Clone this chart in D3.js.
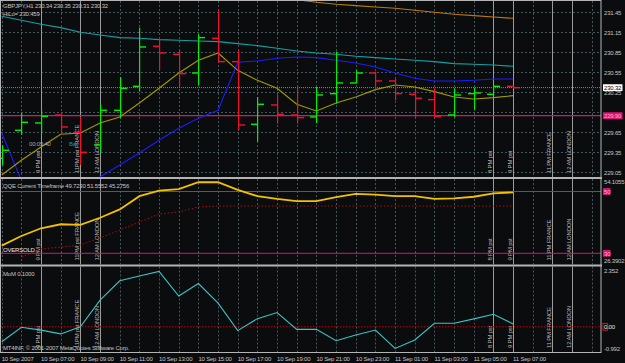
<!DOCTYPE html>
<html>
<head>
<meta charset="UTF-8"/>
<title>GBPJPY,H1</title>
<style>
  body { margin: 0; background: #0b0c0e; }
  svg { display: block; }
  text { font-family: "Liberation Sans", Arial, sans-serif; font-size: 6px; letter-spacing: -0.2px; fill: #c4c4c4; }
  .grid line { stroke: #46555a; stroke-dasharray: 2 2; stroke-width: 1; }
  .frame { stroke: #b4b4b4; fill: none; }
  .event line { stroke: #9a9a9a; stroke-width: 1; }
  .event text { fill: #b8b8b8; }
</style>
</head>
<body>
<svg width="625" height="363"></svg>
<script src="https://d3js.org/d3.v7.min.js"></script>
<script>
// time axis labels (every 2nd bar)
const dateLabels = ['10 Sep 2007', '10 Sep 07:00', '10 Sep 09:00', '10 Sep 11:00', '10 Sep 13:00',
  '10 Sep 15:00', '10 Sep 17:00', '10 Sep 19:00', '10 Sep 21:00', '10 Sep 23:00',
  '11 Sep 01:00', '11 Sep 03:00', '11 Sep 05:00', '11 Sep 07:00'];

// H1 bars
const opens  = [229.26, 229.68, 229.79, 229.91, 229.65, 229.46, 229.98, 230.34, 230.94, 230.82, 230.54, 231.06, 230.71, 229.77, 230.06, 229.91, 229.88, 230.23, 230.39, 230.54, 230.42, 230.22, 230.14, 229.91, 230.23, 230.22, 230.34];
const highs  = [229.46, 229.94, 229.98, 229.95, 229.88, 230.07, 230.48, 231.22, 231.05, 230.88, 231.12, 231.48, 230.88, 230.18, 230.21, 230.33, 230.33, 230.86, 230.58, 230.56, 230.45, 230.31, 230.31, 230.31, 230.32, 230.36, 230.35];
const lows   = [229.16, 229.61, 229.64, 229.61, 229.16, 229.35, 229.86, 230.26, 230.58, 230.34, 230.36, 230.70, 229.68, 229.51, 229.78, 229.78, 229.79, 230.08, 230.38, 230.29, 230.13, 229.88, 229.88, 229.88, 229.99, 230.21, 230.31];
const closes = [229.38, 229.80, 229.89, 229.73, 229.35, 229.98, 230.31, 230.93, 230.84, 230.53, 231.07, 230.71, 229.76, 230.07, 229.92, 229.87, 230.21, 230.39, 230.54, 230.42, 230.23, 230.16, 229.89, 230.21, 230.24, 230.34, 230.32];

// indicator lines on the price window
const maTeal = [231.39, 231.33, 231.27, 231.22, 231.15, 231.11, 231.07, 231.06, 231.04, 231.03, 231.02, 231.01, 230.98, 230.95, 230.91, 230.87, 230.84, 230.82, 230.79, 230.77, 230.75, 230.73, 230.71, 230.68, 230.67, 230.66, 230.64];
const maOrange = [null, null, null, null, null, null, null, null, null, null, null, 231.78, 231.74, 231.71, 231.68, 231.64, 231.60, 231.57, 231.55, 231.53, 231.51, 231.48, 231.45, 231.42, 231.40, 231.38, 231.36];
const hiloBlue = [229.64, 228.93, 228.78, 228.71, 228.78, 228.98, 229.16, 229.34, 229.53, 229.71, 229.86, 229.98, 230.70, 230.72, 230.76, 230.78, 230.77, 230.73, 230.69, 230.63, 230.54, 230.46, 230.42, 230.42, 230.43, 230.45, 230.45];
const maOlive = [229.01, 229.23, 229.43, 229.62, 229.64, 229.79, 229.88, 230.09, 230.31, 230.54, 230.73, 230.84, 230.58, 230.43, 230.31, 230.07, 229.97, 230.09, 230.18, 230.29, 230.36, 230.33, 230.26, 230.18, 230.15, 230.17, 230.20];
const priceTicks = [231.45, 231.15, 230.85, 230.55, 230.25, 229.95, 229.65, 229.35, 229.05];
const bidPrice = 230.32;
const alertPrice = 229.90;

// QQE window
const qqeLine = [32.5, 35.6, 38.1, 39.4, 39.2, 41.5, 44.2, 48.5, 50.3, 50.8, 53.0, 53.0, 50.5, 48.5, 47.6, 46.9, 46.9, 48.2, 49.2, 49.0, 48.5, 48.5, 47.6, 47.8, 48.3, 49.4, 49.72];
const qqeTrail = [null, 28.8, 31.4, 32.0, 32.7, 35.0, 37.5, 40.1, 42.7, 43.4, 45.0, 45.28, 45.28, 45.28, 45.28, 45.28, 45.28, 45.28, 45.28, 45.28, 45.28, 45.28, 45.28, 45.28, 45.28, 45.28, 45.28];
const qqeLevels = [50, 30];

// MoM window
const momValues = [-0.59, -0.02, -0.13, -0.28, 0.00, 1.05, 1.81, 2.00, 2.18, 1.21, 1.70, 0.93, -0.15, 0.32, 0.56, -0.10, -0.10, -0.55, -0.32, -0.13, -0.85, -0.52, 0.14, 0.14, 0.31, 0.49, 0.11];

// session markers: bar index and text
const events = [
  { bar: 2, label: '9 PM pst' }, { bar: 4, label: '11PM pst FRANCE' }, { bar: 5, label: '12 AM LONDON' },
  { bar: 25, label: '8 PM pst' }, { bar: 26, label: '9 PM pst' }, { bar: 28, label: '11 PM FRANCE' }, { bar: 29, label: '12 AM LONDON' }
];

const svg = d3.select('svg');
const left = 1, right = 601;
const x = d3.scaleLinear().domain([0, 30]).range([1.7, 591.8]);
const slots = d3.range(0, 31);

const panels = [
  { id: 'main', top: 1, bottom: 177, y: d3.scaleLinear().domain([229.05, 231.45]).range([172.3, 12.3]) },
  { id: 'qqe', top: 179, bottom: 264.5, y: d3.scaleLinear().domain([30, 50]).range([253.3, 191.5]) },
  { id: 'mom', top: 266.5, bottom: 352, y: d3.scaleLinear().domain([-0.992, 2.352]).range([352, 267]) }
];

const defs = svg.append('defs');
panels.forEach(p => {
  defs.append('clipPath').attr('id', 'clip-' + p.id)
    .append('rect').attr('x', left).attr('y', p.top)
    .attr('width', right - left).attr('height', p.bottom - p.top);
  p.g = svg.append('g').attr('clip-path', `url(#clip-${p.id})`);
  // vertical grid
  p.g.append('g').attr('class', 'grid').selectAll('line').data(slots).join('line')
    .attr('x1', d => Math.round(x(d)) + 0.5).attr('x2', d => Math.round(x(d)) + 0.5)
    .attr('y1', p.top).attr('y2', p.bottom);
});

const main = panels[0], qqe = panels[1], mom = panels[2];

// horizontal grid on price window
main.g.append('g').attr('class', 'grid').selectAll('line').data(priceTicks).join('line')
  .attr('x1', left).attr('x2', right)
  .attr('y1', d => Math.round(main.y(d)) + 0.5).attr('y2', d => Math.round(main.y(d)) + 0.5);

// event lines and labels in each window
panels.forEach(p => {
  const ev = p.g.append('g').attr('class', 'event').selectAll('g').data(events).join('g');
  ev.append('line')
    .attr('x1', d => Math.round(x(d.bar)) + 0.5).attr('x2', d => Math.round(x(d.bar)) + 0.5)
    .attr('y1', p.top).attr('y2', p.bottom);
  ev.append('text')
    .attr('transform', d => `translate(${x(d.bar) - 1.5}, ${p.bottom - 4}) rotate(-90)`)
    .text(d => d.label);
});

// price lines
const priceLine = d3.line().defined(d => d != null).x((d, i) => x(i)).y(d => main.y(d));
main.g.append('line')
  .attr('x1', left).attr('x2', right)
  .attr('y1', main.y(alertPrice)).attr('y2', main.y(alertPrice))
  .attr('stroke', '#e0106e').attr('stroke-width', 1.2);
main.g.append('line')
  .attr('x1', left).attr('x2', right)
  .attr('y1', main.y(bidPrice)).attr('y2', main.y(bidPrice))
  .attr('stroke', '#8a8a8a').attr('stroke-dasharray', '1 1');
[[maOrange, '#c07a00'], [maTeal, '#14a0a4'], [hiloBlue, '#1c1cff'], [maOlive, '#a29a00']].forEach(([vals, col]) => {
  main.g.append('path').datum(vals).attr('d', priceLine)
    .attr('fill', 'none').attr('stroke', col).attr('stroke-width', 1.1);
});

// OHLC bars
const bars = main.g.append('g').selectAll('g').data(opens).join('g')
  .attr('fill', (d, i) => closes[i] >= opens[i] ? '#00f000' : '#f01030');
bars.append('rect')
  .attr('x', (d, i) => Math.round(x(i)))
  .attr('y', (d, i) => main.y(highs[i]))
  .attr('width', 1.2)
  .attr('height', (d, i) => main.y(lows[i]) - main.y(highs[i]));
bars.append('rect')
  .attr('x', (d, i) => Math.round(x(i)) - 6)
  .attr('y', (d, i) => main.y(opens[i]) - 0.7)
  .attr('width', 6).attr('height', 1.4);
bars.append('rect')
  .attr('x', (d, i) => Math.round(x(i)) + 1)
  .attr('y', (d, i) => main.y(closes[i]) - 0.7)
  .attr('width', 6).attr('height', 1.4);

// QQE
qqe.g.selectAll('.lvl').data(qqeLevels).join('line')
  .attr('x1', left).attr('x2', right)
  .attr('y1', d => qqe.y(d)).attr('y2', d => qqe.y(d))
  .attr('stroke', '#e0106e').attr('stroke-width', 1);
const qqePath = d3.line().defined(d => d != null).x((d, i) => x(i)).y(d => qqe.y(d));
qqe.g.append('path').datum(qqeTrail).attr('d', qqePath)
  .attr('fill', 'none').attr('stroke', '#a81010').attr('stroke-dasharray', '1.5 2');
qqe.g.append('path').datum(qqeLine).attr('d', qqePath)
  .attr('fill', 'none').attr('stroke', '#f2c200').attr('stroke-width', 1.8);

// MoM
mom.g.append('line')
  .attr('x1', left).attr('x2', right)
  .attr('y1', mom.y(0)).attr('y2', mom.y(0))
  .attr('stroke', '#c00000').attr('stroke-dasharray', '1.5 1.5');
mom.g.append('path').datum(momValues)
  .attr('d', d3.line().x((d, i) => x(i)).y(d => mom.y(d)))
  .attr('fill', 'none').attr('stroke', '#3cc4c4').attr('stroke-width', 1.1);

// frames and window separators
svg.append('rect').attr('class', 'frame').attr('x', 0.5).attr('y', 0.5)
  .attr('width', right - 0.5).attr('height', 352);
[178, 265.5].forEach(yy => svg.append('line').attr('class', 'frame')
  .attr('x1', 0).attr('x2', right + 1).attr('y1', yy).attr('y2', yy).attr('stroke-width', 2));

// right scales (a tick label fully under the alert tag is hidden, as in the terminal)
const axisX = 604;
svg.append('g').selectAll('text')
  .data(priceTicks.filter(d => Math.abs(main.y(d) - main.y(alertPrice)) > 4))
  .join('text')
  .attr('x', axisX).attr('y', d => main.y(d) + 2.2).text(d => d.toFixed(2));

function tag(yv, label, bg, fg, w) {
  svg.append('rect').attr('x', axisX - 1).attr('y', yv - 3.4).attr('width', w).attr('height', 6.8).attr('fill', bg);
  svg.append('text').attr('x', axisX).attr('y', yv + 2.2).style('fill', fg).text(label);
}
tag(main.y(bidPrice), bidPrice.toFixed(2), '#ffffff', '#000000', 19.5);
tag(main.y(alertPrice), alertPrice.toFixed(2), '#e0106e', '#f4b8d0', 19.5);
svg.append('text').attr('x', axisX).attr('y', qqe.top + 5).text('54.1055');
svg.append('text').attr('x', axisX).attr('y', qqe.bottom - 1.5).text('26.3902');
qqeLevels.forEach(l => tag(qqe.y(l), String(l), '#e0106e', '#f4b8d0', 7.5));
svg.append('text').attr('x', axisX).attr('y', mom.top + 6).text('2.352');
svg.append('text').attr('x', axisX).attr('y', mom.bottom - 1).text('-0.992');
svg.append('rect').attr('x', axisX - 1).attr('y', mom.y(0) - 3.4).attr('width', 4.6).attr('height', 6.8)
  .attr('fill', 'none').attr('stroke', '#e01010');
svg.append('text').attr('x', axisX).attr('y', mom.y(0) + 2.2).style('fill', '#e8e8e8').text('0.00');

// time axis
svg.append('g').selectAll('text').data(dateLabels).join('text')
  .attr('x', (d, i) => x(i * 2)).attr('y', 361).text(d => d);

// captions
svg.append('text').attr('x', 3).attr('y', 8.3).text('GBPJPY,H1  230.34 230.35 230.31 230.32');
svg.append('text').attr('x', 3).attr('y', 15.8).text('HiLo= 230.459');
svg.append('text').attr('x', 29).attr('y', 146).style('fill', '#a8a8a8').text('00:05:40');
svg.append('text').attr('x', 69).attr('y', 146).style('fill', '#1a9aa8').text('Bar');
svg.append('text').attr('x', 3).attr('y', 187.5).text('QQE Current Timeframe 49.7230 51.5552 45.2756');
svg.append('text').attr('x', 3).attr('y', 252).style('fill', '#e8e8e8').text('OVERSOLD');
svg.append('text').attr('x', 3).attr('y', 275.5).text('MoM  0.1000');
svg.append('text').attr('x', 3).attr('y', 350).text('MT4INF, © 2001-2007 MetaQuotes Software Corp.');
</script>
</body>
</html>
